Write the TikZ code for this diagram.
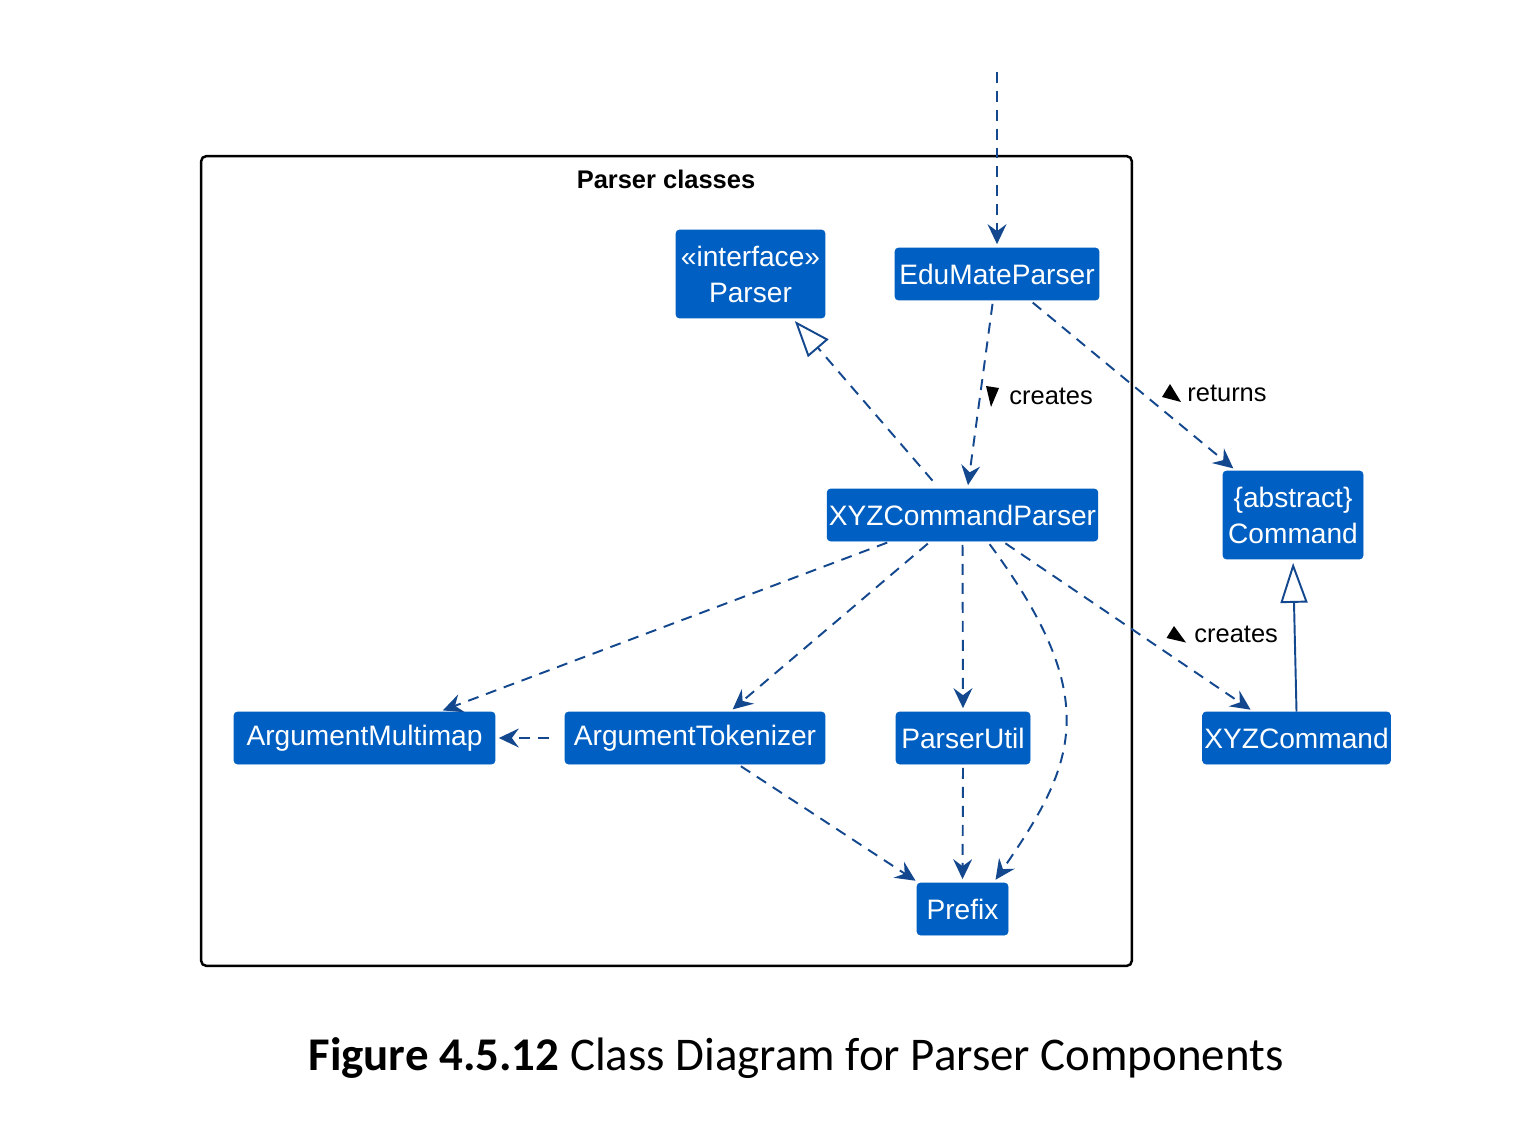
\documentclass[tikz,border=0pt]{standalone}
\usepackage{fontspec}
\setmainfont{Liberation Sans}
\newfontfamily\capfont{Carlito}
\usepackage{tikz}
\usetikzlibrary{arrows.meta, positioning, calc}
\definecolor{classblue}{RGB}{0, 95, 194}
\definecolor{linkblue}{RGB}{20, 72, 142}
\tikzset{
  cls/.style={rectangle, rounded corners=2pt, draw=classblue, fill=classblue,
              text=white, minimum width=#1, minimum height=1.04cm, align=center,
              font=\fontsize{16}{20.5}\selectfont, inner xsep=1pt, inner ysep=2pt},
  cls/.default=3cm,
  dep/.style={-{Stealth[length=0.4cm, width=0.38cm, inset=0.14cm, line width=0.8pt]},
              dash pattern=on 0.22cm off 0.16cm, line width=1.1pt,
              color=linkblue, shorten >=2pt, shorten <=2pt},
  realize/.style={-{Triangle[open, length=0.72cm, width=0.54cm]},
              dash pattern=on 0.22cm off 0.16cm, line width=1.1pt,
              color=linkblue, shorten >=2pt},
  inherit/.style={-{Triangle[open, length=0.8cm, width=0.54cm]},
              line width=1.1pt, color=linkblue, shorten >=2pt},
  dirmark/.style={fill=black},
  lbl/.style={font=\fontsize{14.5}{16}\selectfont, inner sep=0pt,
              right=0.34cm of #1},
}

\begin{document}
\begin{tikzpicture}[x=0.02cm, y=-0.02cm]
  \useasboundingbox[fill=white] (0,0) rectangle (1530,1122);

  % package frame
  \node[draw, line width=1.4pt, rounded corners=3pt, minimum width=18.62cm,
        minimum height=16.2cm, inner sep=0pt] (pkg) at (666.5,561) {};
  \node[font=\bfseries\fontsize{14.5}{17}\selectfont] (pkgtitle) at (666,179) {Parser classes};

  % classes
  \node[cls=2.98cm, minimum height=1.76cm] (parser) at (750.5,274) {«interface»\\Parser};
  \node[cls=4.08cm] (edu) at (997,274) {EduMateParser};
  \node[cls=5.34cm] (xyzp) at (962.5,515) {XYZCommandParser};
  \node[cls=2.8cm, minimum height=1.76cm] (cmd) at (1293,515) {\{abstract\}\\Command};
  \node[cls=5.22cm] (amap) at (364.5,738) {ArgumentMultimap};
  \node[cls=5.2cm] (tok) at (695,738) {ArgumentTokenizer};
  \node[cls=2.68cm] (util) at (963,738) {ParserUtil};
  \node[cls=3.7cm] (xcmd) at (1296.5,738) {XYZCommand};
  \node[cls=1.82cm] (prefix) at (962.5,909) {Prefix};

  \coordinate (entry) at (997,68);

  % connectors
  \draw[dep] (entry) -- (edu.north);
  \draw[dep] ($(edu.south)+(-4,0)$) -- ($(xyzp.north)+(5,0)$);
  \draw[dep] ($(edu.south)+(33,0)$) -- ($(cmd.north)+(-57,0)$);
  \draw[realize] ($(xyzp.north)+(-30,-8)$) -- ($(parser.south)+(42,0)$);
  \draw[dep] ($(xyzp.south)+(-72,0)$) -- ($(amap.north)+(75,0)$);
  \draw[dep] ($(xyzp.south)+(-32,0)$) -- ($(tok.north)+(35,0)$);
  \draw[dep] (xyzp.south) -- (util.north);
  \draw[dep] ($(xyzp.south)+(25,0)$) .. controls (1105,700) and (1075,765) .. ($(prefix.north)+(31,0)$);
  \draw[dep] ($(xyzp.south)+(40,0)$) -- ($(xcmd.north)+(-43,0)$);
  \draw[dep, shorten <=0.32cm] (tok.west) -- (amap.east);
  \draw[dep] ($(tok.south)+(43,0)$) -- ($(prefix.north)+(-44,0)$);
  \draw[dep] (util.south) -- (prefix.north);
  \draw[inherit] (xcmd.north) -- (cmd.south);

  % labels
  \coordinate (mark1) at (992,396);
  \coordinate (mark2) at (1170,393);
  \coordinate (mark3) at (1177,634);
  \fill[dirmark] (mark1) +(-6,-10) -- +(7,-8) -- +(-1,11) -- cycle;
  \fill[dirmark] (mark2) +(0,-9) -- +(-8,4) -- +(11,9) -- cycle;
  \fill[dirmark] (mark3) +(-3,-8) -- +(-10.5,4) -- +(9,8.5) -- cycle;
  \node[lbl=mark1] (creates1) {creates};
  \node[lbl=mark2] (returns) {returns};
  \node[lbl=mark3] (creates2) {creates};

  % caption
  \node[font=\capfont\fontsize{26.7}{32}\selectfont, anchor=base] (caption) at (796,1070)
        {\textbf{Figure 4.5.12} Class Diagram for Parser Components};
\end{tikzpicture}
\end{document}
